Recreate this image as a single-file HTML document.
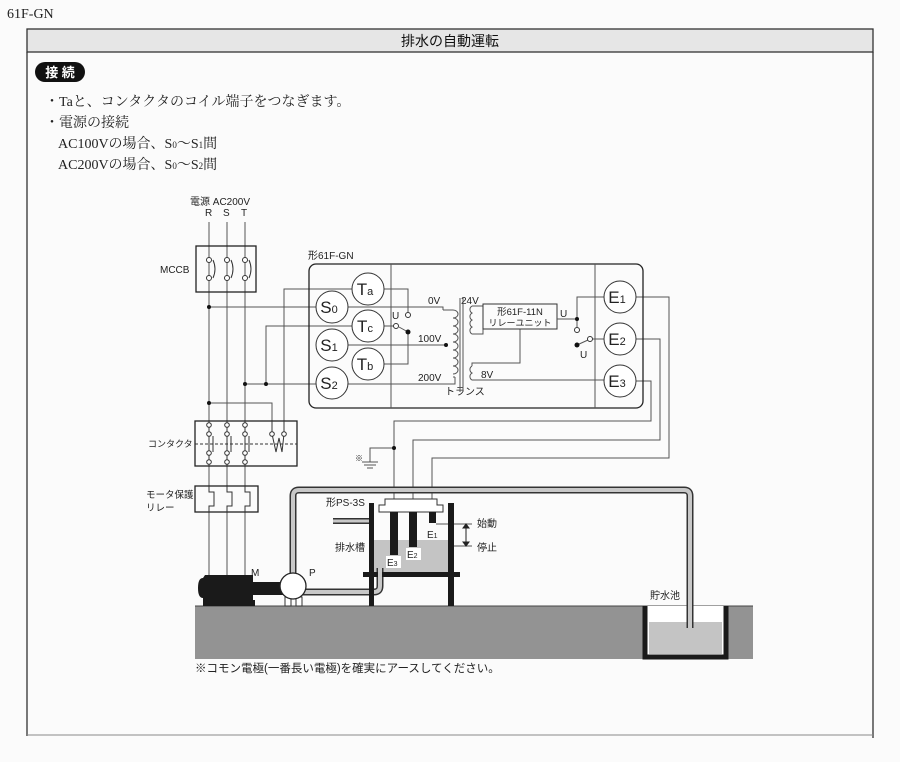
<!DOCTYPE html>
<html><head><meta charset="utf-8"><style>
html,body{margin:0;padding:0;background:#fbfbfb;}
body{width:900px;height:762px;position:relative;overflow:hidden;font-family:"Liberation Serif","Noto Serif CJK SC",serif;}
</style></head><body>
<svg width="900" height="762" viewBox="0 0 900 762" xmlns="http://www.w3.org/2000/svg" style="position:absolute;left:0;top:0">
<g font-family="Liberation Serif, Noto Serif CJK SC, serif" fill="#222">
<text x="7" y="18" font-size="14">61F-GN</text>
</g>
<rect x="27" y="29" width="846" height="23" fill="#e6e6e6" stroke="#333" stroke-width="1.3"/>
<line x1="27" y1="52" x2="27" y2="736" stroke="#333" stroke-width="1.3"/>
<line x1="873" y1="52" x2="873" y2="738" stroke="#333" stroke-width="1.3"/>
<line x1="27" y1="735" x2="873" y2="735" stroke="#888" stroke-width="1"/>
<text x="450" y="46" font-size="14" text-anchor="middle" font-family="Liberation Sans, Noto Sans CJK JP, sans-serif" fill="#111">排水の自動運転</text>
<rect x="35" y="62" width="50" height="20" rx="10" fill="#111"/>
<text x="60" y="77" font-size="13" text-anchor="middle" fill="#fff" font-weight="bold" font-family="Liberation Sans, Noto Sans CJK JP, sans-serif">接 続</text>
<g font-family="Liberation Serif, Noto Serif CJK JP, serif" font-size="14" fill="#222">
<text x="45" y="106">・Taと、コンタクタのコイル端子をつなぎます。</text>
<text x="45" y="127">・電源の接続</text>
<text x="58" y="148">AC100Vの場合、S<tspan font-size="9">0</tspan>〜S<tspan font-size="9">1</tspan>間</text>
<text x="58" y="169">AC200Vの場合、S<tspan font-size="9">0</tspan>〜S<tspan font-size="9">2</tspan>間</text>
</g>

<g font-family="Liberation Sans, Noto Sans CJK JP, sans-serif" font-size="10" fill="#222">
<text x="190" y="205">電源 AC200V</text>
<text x="205" y="216">R</text><text x="223" y="216">S</text><text x="241" y="216">T</text>
<text x="160" y="273">MCCB</text>
<text x="148" y="447" font-size="9">コンタクタ</text>
<text x="146" y="498" font-size="9.5">モータ保護</text>
<text x="146" y="511" font-size="9.5">リレー</text>
<text x="308" y="259">形61F-GN</text>
<text x="428" y="304">0V</text>
<text x="461" y="304">24V</text>
<text x="418" y="342">100V</text>
<text x="418" y="381">200V</text>
<text x="481" y="378">8V</text>
<text x="445" y="395">トランス</text>
<text x="392" y="319">U</text>
<text x="560" y="317">U</text>
<text x="580" y="358">U</text>
<text x="520" y="315" font-size="9.5" text-anchor="middle">形61F-11N</text>
<text x="520" y="326" font-size="9" text-anchor="middle">リレーユニット</text>
<text x="326" y="506">形PS-3S</text>
<text x="335" y="551">排水槽</text>
<text x="477" y="527">始動</text>
<text x="477" y="551">停止</text>
<text x="251" y="576">M</text>
<text x="309" y="576">P</text>
<text x="650" y="599">貯水池</text>
<text x="355" y="461" font-size="8">※</text>
<text x="195" y="672" font-size="11.5">※コモン電極(一番長い電極)を確実にアースしてください。</text>
</g>

<!-- ground & pit -->
<rect x="195" y="606" width="558" height="53" fill="#939393"/>
<line x1="195" y1="606" x2="753" y2="606" stroke="#444" stroke-width="1"/>
<rect x="643" y="606" width="85" height="53" fill="#fff"/>
<rect x="649" y="622" width="73" height="32" fill="#c4c4c4"/>
<path d="M645 606 V657 H726 V606" fill="none" stroke="#1a1a1a" stroke-width="5"/>

<g stroke="#555" stroke-width="1" fill="none">
<line x1="209" y1="222" x2="209" y2="578"/>
<line x1="227" y1="222" x2="227" y2="578"/>
<line x1="245" y1="222" x2="245" y2="578"/>
<line x1="209" y1="307" x2="316" y2="307"/>
<polyline points="348,307 443,307 443,310"/>
<line x1="245" y1="384" x2="316" y2="384"/>
<polyline points="348,384 455,384 455,377"/>
<line x1="348" y1="345" x2="446" y2="345"/>
<polyline points="209,403 272,403 272,430"/>
<polyline points="284,430 284,289 352,289"/>
<polyline points="384,289 408,289 408,312"/>
<polyline points="266,384 266,326 352,326"/>
<line x1="384" y1="326" x2="393" y2="326"/>
<line x1="399" y1="327" x2="408" y2="332"/>
<polyline points="384,364 408,364 408,332"/>
<line x1="460" y1="298" x2="460" y2="392"/>
<line x1="463" y1="298" x2="463" y2="392"/>
<path d="M443 310 a5 4 0 0 1 0 8 a5 4 0 0 1 0 8 a5 4 0 0 1 0 8 a5 4 0 0 1 0 8 a5 4 0 0 1 0 8 a5 4 0 0 1 0 8 a5 4 0 0 1 0 8 a5 4 0 0 1 0 8 " transform="translate(10,0)"/>
<polyline points="443,310 453,310"/>
<polyline points="453,377 455,377"/>
<path d="M472 306 a4 4 0 0 0 0 7 a4 4 0 0 0 0 7 a4 4 0 0 0 0 7 a4 4 0 0 0 0 7"/>
<polyline points="472,306 483,306"/>
<polyline points="472,334 483,334 483,329"/>
<path d="M472 366 a4 4 0 0 0 0 7 a4 4 0 0 0 0 7"/>
<polyline points="472,366 472,363 520,363 520,329"/>
<polyline points="472,380 604,380"/>
<rect x="483" y="304" width="74" height="25" stroke="#333"/>
<polyline points="557,319 577,319"/>
<polyline points="577,327 577,297 604,297"/>
<line x1="577" y1="345" x2="588" y2="340"/>
<line x1="593" y1="339" x2="604" y2="339"/>
<polyline points="636,297 669,297 669,458 432,458 432,515"/>
<polyline points="636,339 660,339 660,440 413,440 413,515"/>
<polyline points="636,381 651,381 651,421 394,421 394,515"/>
<polyline points="394,448 370,448 370,462"/>
<line x1="362" y1="462" x2="378" y2="462"/>
<line x1="364" y1="465" x2="376" y2="465"/>
<line x1="367" y1="468" x2="373" y2="468"/>
<line x1="436" y1="524" x2="472" y2="524"/>
<line x1="417" y1="546" x2="472" y2="546"/>
</g>
<g stroke="#222" stroke-width="1" fill="#222">
<line x1="466" y1="527" x2="466" y2="543"/>
<path d="M463 528 L466 524 L469 528Z"/><path d="M463 542 L466 546 L469 542Z"/>
</g>
<rect x="309" y="264" width="334" height="144" rx="7" fill="none" stroke="#222" stroke-width="1.3"/>
<line x1="391" y1="264" x2="391" y2="408" stroke="#555"/>
<line x1="595" y1="264" x2="595" y2="408" stroke="#555"/>
<g fill="#fff" stroke="#333" stroke-width="1">
<circle cx="368" cy="289" r="16"/><circle cx="332" cy="307" r="16"/>
<circle cx="368" cy="326" r="16"/><circle cx="332" cy="345" r="16"/>
<circle cx="368" cy="364" r="16"/><circle cx="332" cy="383" r="16"/>
<circle cx="620" cy="297" r="16"/><circle cx="620" cy="339" r="16"/><circle cx="620" cy="381" r="16"/>
<circle cx="408" cy="315" r="2.5"/><circle cx="396" cy="326" r="2.5"/>
<circle cx="577" cy="330" r="2.5"/><circle cx="590" cy="339" r="2.5"/>
</g>
<g font-family="Liberation Sans, sans-serif" font-size="17" fill="#222" text-anchor="middle">
<text x="365" y="295">T<tspan font-size="11">a</tspan></text>
<text x="329" y="313">S<tspan font-size="11">0</tspan></text>
<text x="365" y="332">T<tspan font-size="11">c</tspan></text>
<text x="329" y="351">S<tspan font-size="11">1</tspan></text>
<text x="365" y="370">T<tspan font-size="11">b</tspan></text>
<text x="329" y="389">S<tspan font-size="11">2</tspan></text>
<text x="617" y="303">E<tspan font-size="11">1</tspan></text>
<text x="617" y="345">E<tspan font-size="11">2</tspan></text>
<text x="617" y="387">E<tspan font-size="11">3</tspan></text>
</g>
<g fill="#111">
<circle cx="209" cy="307" r="2"/><circle cx="245" cy="384" r="2"/><circle cx="266" cy="384" r="2"/>
<circle cx="209" cy="403" r="2"/><circle cx="408" cy="332" r="2.5"/><circle cx="446" cy="345" r="2"/>
<circle cx="577" cy="319" r="2"/><circle cx="577" cy="345" r="2.5"/><circle cx="394" cy="448" r="2"/>
</g>
<rect x="196" y="246" width="60" height="46" fill="none" stroke="#222" stroke-width="1.3"/>
<g fill="#fff" stroke="#333">
<circle cx="209" cy="260" r="2.5"/><circle cx="209" cy="278" r="2.5"/>
<circle cx="227" cy="260" r="2.5"/><circle cx="227" cy="278" r="2.5"/>
<circle cx="245" cy="260" r="2.5"/><circle cx="245" cy="278" r="2.5"/>
</g>
<g fill="none" stroke="#333"><path d="M213 260 q4 9 0 18"/><path d="M231 260 q4 9 0 18"/><path d="M249 260 q4 9 0 18"/></g>
<rect x="195" y="421" width="102" height="45" fill="#fbfbfb" stroke="#222" stroke-width="1.3"/>
<line x1="195" y1="444" x2="297" y2="444" stroke="#333" stroke-dasharray="3,2"/>
<g stroke="#333" fill="none">
<line x1="209" y1="421" x2="209" y2="466"/><line x1="227" y1="421" x2="227" y2="466"/><line x1="245" y1="421" x2="245" y2="466"/>
<line x1="272" y1="421" x2="272" y2="434"/><line x1="284" y1="421" x2="284" y2="434"/>
<line x1="213" y1="436" x2="213" y2="452"/><line x1="231" y1="436" x2="231" y2="452"/><line x1="249" y1="436" x2="249" y2="452"/>
<polyline points="272,434 276,452 279,438 282,452 284,434"/>
</g>
<g fill="#fff" stroke="#333">
<circle cx="209" cy="425" r="2.3"/><circle cx="209" cy="434" r="2.3"/><circle cx="209" cy="453" r="2.3"/><circle cx="209" cy="462" r="2.3"/>
<circle cx="227" cy="425" r="2.3"/><circle cx="227" cy="434" r="2.3"/><circle cx="227" cy="453" r="2.3"/><circle cx="227" cy="462" r="2.3"/>
<circle cx="245" cy="425" r="2.3"/><circle cx="245" cy="434" r="2.3"/><circle cx="245" cy="453" r="2.3"/><circle cx="245" cy="462" r="2.3"/>
<circle cx="272" cy="434" r="2.3"/><circle cx="284" cy="434" r="2.3"/>
</g>
<rect x="195" y="486" width="63" height="26" fill="#fbfbfb" stroke="#222" stroke-width="1.3"/>
<g stroke="#333" fill="none">
<polyline points="209,486 209,492 214,492 214,506 209,506 209,512"/>
<polyline points="227,486 227,492 232,492 232,506 227,506 227,512"/>
<polyline points="245,486 245,492 250,492 250,506 245,506 245,512"/>
</g>
<rect x="374" y="540" width="74" height="32" fill="#c4c4c4"/>
<g fill="none" stroke-linecap="butt">
<path d="M293 574 V496 Q293 490 299 490 H684 Q690 490 690 496 V628" stroke="#333" stroke-width="7"/>
<path d="M293 574 V496 Q293 490 299 490 H684 Q690 490 690 496 V628" stroke="#c8c8c8" stroke-width="4"/>
<path d="M300 592 H374 Q380 592 380 586 V568" stroke="#333" stroke-width="7"/>
<path d="M300 592 H374 Q380 592 380 586 V568" stroke="#c8c8c8" stroke-width="4"/>
<path d="M333 521 H369" stroke="#333" stroke-width="6"/>
<path d="M333 521 H369" stroke="#c8c8c8" stroke-width="3"/>
</g>
<rect x="369" y="503" width="5" height="103" fill="#1a1a1a"/>
<rect x="448" y="503" width="6" height="103" fill="#1a1a1a"/>
<rect x="363" y="572" width="97" height="5" fill="#1a1a1a"/>
<rect x="378" y="572" width="4" height="5" fill="#c8c8c8"/>
<path d="M379 512 V505 H385 V499 H437 V505 H443 V512 Z" fill="#fff" stroke="#333"/>
<rect x="390" y="512" width="8" height="43" fill="#1a1a1a"/>
<rect x="409" y="512" width="8" height="35" fill="#1a1a1a"/>
<rect x="429" y="512" width="7" height="11" fill="#1a1a1a"/>
<g font-family="Liberation Sans, sans-serif" font-size="10" fill="#222">
<rect x="386" y="556" width="15" height="12" fill="#fff"/>
<text x="387" y="566">E<tspan font-size="7">3</tspan></text>
<rect x="406" y="548" width="15" height="12" fill="#fff"/>
<text x="407" y="558">E<tspan font-size="7">2</tspan></text>
<text x="427" y="538">E<tspan font-size="7">1</tspan></text>
</g>
<path d="M203 578 Q198 578 198 588 Q198 598 203 598 V606 H255 V600 H253 V595 H285 V582 H253 V575 H205 Z" fill="#1a1a1a"/>
<rect x="285" y="597" width="6" height="9" fill="#fff" stroke="#333"/>
<rect x="296" y="597" width="6" height="9" fill="#fff" stroke="#333"/>
<circle cx="293" cy="586" r="13" fill="#fff" stroke="#222" stroke-width="1.3"/>
</svg>
</body></html>
